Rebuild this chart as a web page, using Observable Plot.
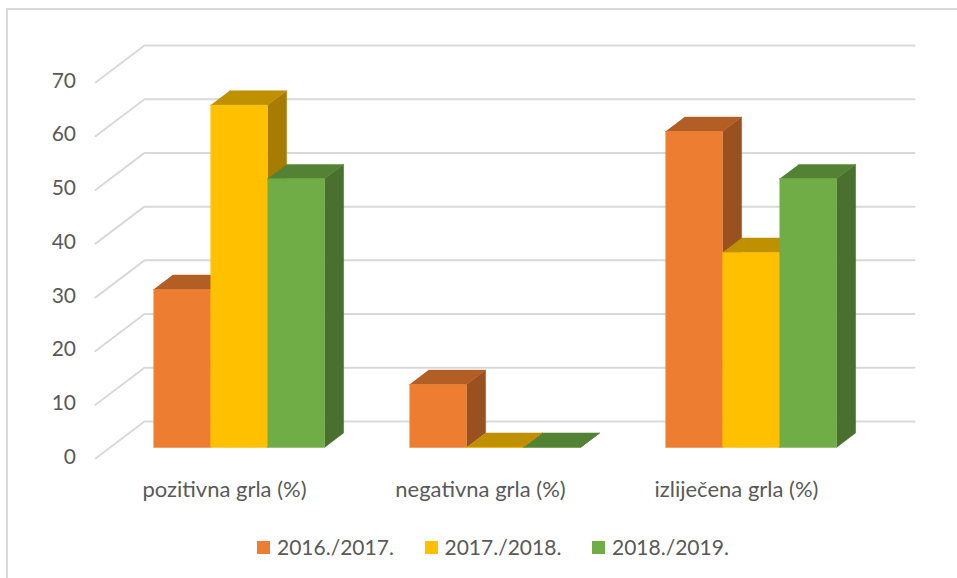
<!DOCTYPE html>
<html>
<head>
<meta charset="utf-8">
<script src="https://cdn.jsdelivr.net/npm/d3@7"></script>
<script src="https://cdn.jsdelivr.net/npm/@observablehq/plot@0.6"></script>
<style>
  html, body { margin: 0; padding: 0; background: #fff; }
  #frame { position: relative; width: 957px; height: 578px; overflow: hidden; font-family: Lato, sans-serif; color: #595959; }
  #frame::before { content: ""; position: absolute; left: 6px; top: 8px; right: -4px; bottom: -4px; border: 2px solid #d9d9d9; pointer-events: none; }
  #legend { position: absolute; left: 257px; top: 532px; display: flex; align-items: center; font-size: 21px; line-height: 30px; }
  #legend .sw { width: 13px; height: 13px; margin-right: 7px; }
  #legend .it { display: flex; align-items: center; width: 167.5px; white-space: nowrap; }
</style>
</head>
<body>
<div id="frame"><div id="chart"></div><div id="legend"></div></div>
<script>
const categories = ["pozitivna grla (%)", "negativna grla (%)", "izliječena grla (%)"];
const seasons = ["2016./2017.", "2017./2018.", "2018./2019."];
const values2016 = [29.4, 11.7, 58.8];
const values2017 = [63.7, 0, 36.3];
const values2018 = [50, 0, 50];
const seriesValues = [values2016, values2017, values2018];
const yTicks = [0, 10, 20, 30, 40, 50, 60, 70];

const frontColors = ["#ED7D31", "#FFC000", "#70AD47"];
const topColors = ["#B25E25", "#BF9000", "#548235"];
const sideColors = ["#9A5120", "#A67D00", "#49702E"];

// Oblique projection: the depth axis (0 = front plane, 1 = back wall) shifts x and y in data units
const depthX = 0.1914;
const depthY = 6.89;
const barNear = 0.3;
const barFar = 0.69;
const barWidth = 0.2227;
const barStart = 0.169;
const gridEnd = categories.length + 0.008;
const project = (x, y, d) => ({px: x + d * depthX, py: y + d * depthY});

const gridLines = yTicks.flatMap((v) => [
  {...project(0, v, 0), id: v},
  {...project(0, v, 1), id: v},
  {...project(gridEnd, v, 1), id: v}
]);

const faces = [];
categories.forEach((c, ci) => {
  seriesValues.forEach((vals, si) => {
    const x0 = ci + barStart + si * barWidth;
    const x1 = x0 + barWidth;
    const v = vals[ci];
    const add = (name, color, corners) =>
      corners.forEach((p) => faces.push({...project(p[0], p[1], p[2]), id: `${ci}-${si}-${name}`, color}));
    add("side", sideColors[si], [[x1, 0, barNear], [x1, 0, barFar], [x1, v, barFar], [x1, v, barNear]]);
    add("top", topColors[si], [[x0, v, barNear], [x1, v, barNear], [x1, v, barFar], [x0, v, barFar]]);
    add("front", frontColors[si], [[x0, 0, barNear], [x1, 0, barNear], [x1, v, barNear], [x0, v, barNear]]);
  });
});

const plot = Plot.plot({
  width: 957,
  height: 530,
  marginLeft: 95,
  marginRight: 94,
  marginTop: 82,
  marginBottom: 72,
  style: {background: "transparent", overflow: "visible", fontFamily: "Lato, sans-serif"},
  x: {domain: [0, categories.length]},
  y: {domain: [0, 70]},
  color: {type: "identity"},
  marks: [
    Plot.line(gridLines, {x: "px", y: "py", z: "id", stroke: "#d9d9d9", strokeWidth: 2, curve: "linear"}),
    Plot.line(faces, {x: "px", y: "py", z: "id", fill: "color", stroke: "color", strokeWidth: 0.5, curve: "linear"}),
    Plot.axisY({
      ticks: yTicks, tickSize: 0, tickPadding: 19.5, dy: -1.5, label: null,
      fontSize: 21, fill: "#595959", tickFormat: (d) => String(d)
    }),
    Plot.axisX({
      ticks: categories.map((c, i) => i + 0.5), tickSize: 0, tickPadding: 23, dx: 1, label: null,
      fontSize: 22, fill: "#595959", tickFormat: (d) => categories[d - 0.5],
      textOverflow: null
    })
  ]
});
document.getElementById("chart").appendChild(plot);

const legend = document.getElementById("legend");
seasons.forEach((s, i) => {
  const it = document.createElement("div");
  it.className = "it";
  const sw = document.createElement("span");
  sw.className = "sw";
  sw.style.background = frontColors[i];
  const tx = document.createElement("span");
  tx.textContent = s;
  it.append(sw, tx);
  legend.append(it);
});
</script>
</body>
</html>
